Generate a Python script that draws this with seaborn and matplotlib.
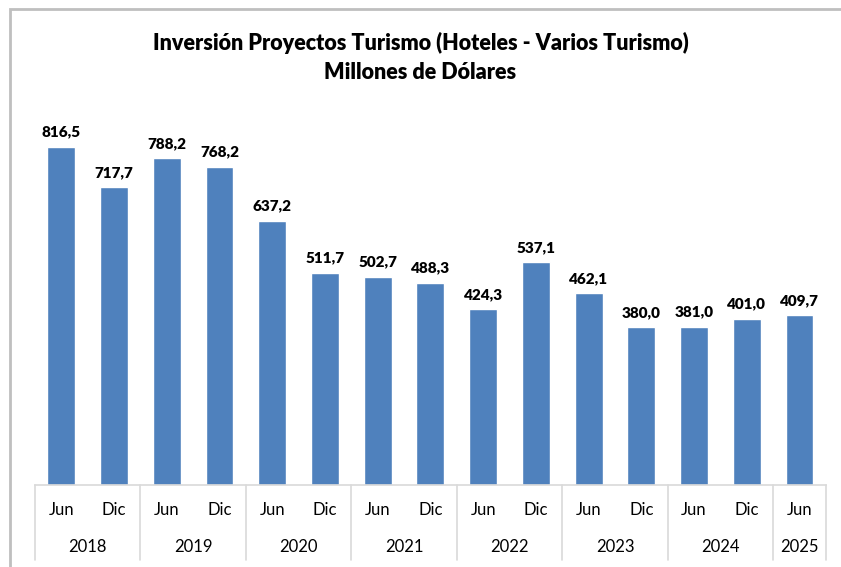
import matplotlib
matplotlib.use('Agg')
import matplotlib.pyplot as plt
import matplotlib.transforms as mtransforms
from matplotlib.patches import Rectangle
import seaborn as sns
import pandas as pd

# data
periodos = ['Jun', 'Dic', 'Jun', 'Dic', 'Jun', 'Dic', 'Jun', 'Dic',
            'Jun', 'Dic', 'Jun', 'Dic', 'Jun', 'Dic', 'Jun']
anios = ['2018', '2019', '2020', '2021', '2022', '2023', '2024', '2025']
valores = [816.5, 717.7, 788.2, 768.2, 637.2, 511.7, 502.7, 488.3,
           424.3, 537.1, 462.1, 380.0, 381.0, 401.0, 409.7]

df = pd.DataFrame({'pos': [str(i) for i in range(len(valores))],
                   'periodo': periodos, 'valor': valores})

sns.set_style('white')
plt.rcParams['font.family'] = ['Lato', 'DejaVu Sans']
plt.rcParams['text.color'] = 'black'

fig = plt.figure(figsize=(8.41, 5.67), dpi=100)
ax = fig.add_axes([0.0416, 0.1446, 0.9404, 0.658])

sns.barplot(data=df, x='pos', y='valor', color='#4F81BD', width=0.53,
            saturation=1, ax=ax)
ax.set_ylim(0, 900)
ax.set_xlim(-0.5, len(valores) - 0.5)

ax.bar_label(ax.containers[0],
             labels=[f'{v:.1f}'.replace('.', ',') for v in valores],
             padding=6, fontsize=11, fontweight='heavy', color='black')

ax.set_xlabel('')
ax.set_ylabel('')
ax.set_yticks([])
ax.set_xticks([])
for s in ['left', 'right', 'top']:
    ax.spines[s].set_visible(False)
ax.spines['bottom'].set_color('#d9d9d9')
ax.spines['bottom'].set_linewidth(1.2)

# multi-level category axis
tr = mtransforms.blended_transform_factory(ax.transData, ax.transAxes)
for i, p in enumerate(periodos):
    ax.text(i, -0.067, p, transform=tr, ha='center', va='center',
            fontsize=12, color='black')

bounds = [-0.5]
for j, a in enumerate(anios):
    start = 2 * j
    end = min(start + 2, len(valores))
    ax.text((start + end - 1) / 2, -0.166, a, transform=tr,
            ha='center', va='center', fontsize=12, color='black')
    bounds.append(end - 0.5)
for b in bounds:
    ax.plot([b, b], [0, -0.2], transform=tr, color='#d9d9d9', lw=1.2,
            clip_on=False)

fig.text(0.5, 0.925, 'Inversión Proyectos Turismo (Hoteles - Varios Turismo)',
         ha='center', va='center', fontsize=15.5, fontweight='heavy')
fig.text(0.5, 0.873, 'Millones de Dólares',
         ha='center', va='center', fontsize=15.5, fontweight='heavy')

# chart border
fig.patches.append(Rectangle((10 / 841, -0.1), 1.2, 1 - 9 / 567 + 0.1,
                             transform=fig.transFigure, fill=False,
                             edgecolor='#bfbfbf', lw=2))

fig.savefig('out.png', dpi=100)
